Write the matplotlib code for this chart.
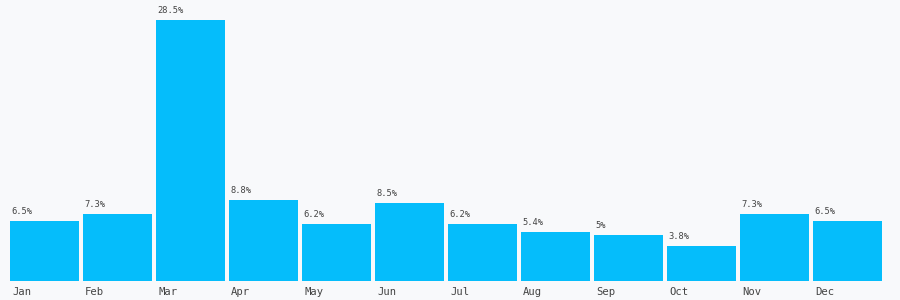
import matplotlib
matplotlib.use("Agg")
import matplotlib.pyplot as plt
from matplotlib.transforms import offset_copy

months = ["Jan", "Feb", "Mar", "Apr", "May", "Jun", "Jul", "Aug", "Sep", "Oct", "Nov", "Dec"]
values = [6.5, 7.3, 28.5, 8.8, 6.2, 8.5, 6.2, 5.4, 5.0, 3.8, 7.3, 6.5]
labels = ["6.5%", "7.3%", "28.5%", "8.8%", "6.2%", "8.5%", "6.2%", "5.4%", "5%", "3.8%", "7.3%", "6.5%"]

bg = "#f8f9fb"
bar_color = "#05bdfb"
text_color = "#444444"
font = "DejaVu Sans Mono"

fig = plt.figure(figsize=(9, 3), dpi=100, facecolor=bg)
ax = fig.add_axes([0, 19 / 300, 1, 281 / 300])
ax.set_facecolor(bg)
x = list(range(len(months)))
ax.bar(x, values, width=69 / 73, align="edge", color=bar_color, linewidth=0)
ax.set_xlim(-10 / 73, 890 / 73)
ax.set_ylim(0, 28.5 * 281 / 261)
ax.axis("off")

lab_tr = offset_copy(ax.transData, fig=fig, x=1.5, y=5, units="dots")
for xi, v, l in zip(x, values, labels):
    ax.text(xi, v, l, transform=lab_tr, ha="left", va="bottom",
            fontsize=6.3, family=font, color=text_color)

mon_tr = offset_copy(ax.transData, fig=fig, x=2, y=-11, units="dots")
for xi, m in zip(x, months):
    ax.text(xi, 0, m, transform=mon_tr, ha="left", va="center",
            fontsize=7.6, family=font, color=text_color, clip_on=False)

fig.savefig("out.png", dpi=100, facecolor=bg)
